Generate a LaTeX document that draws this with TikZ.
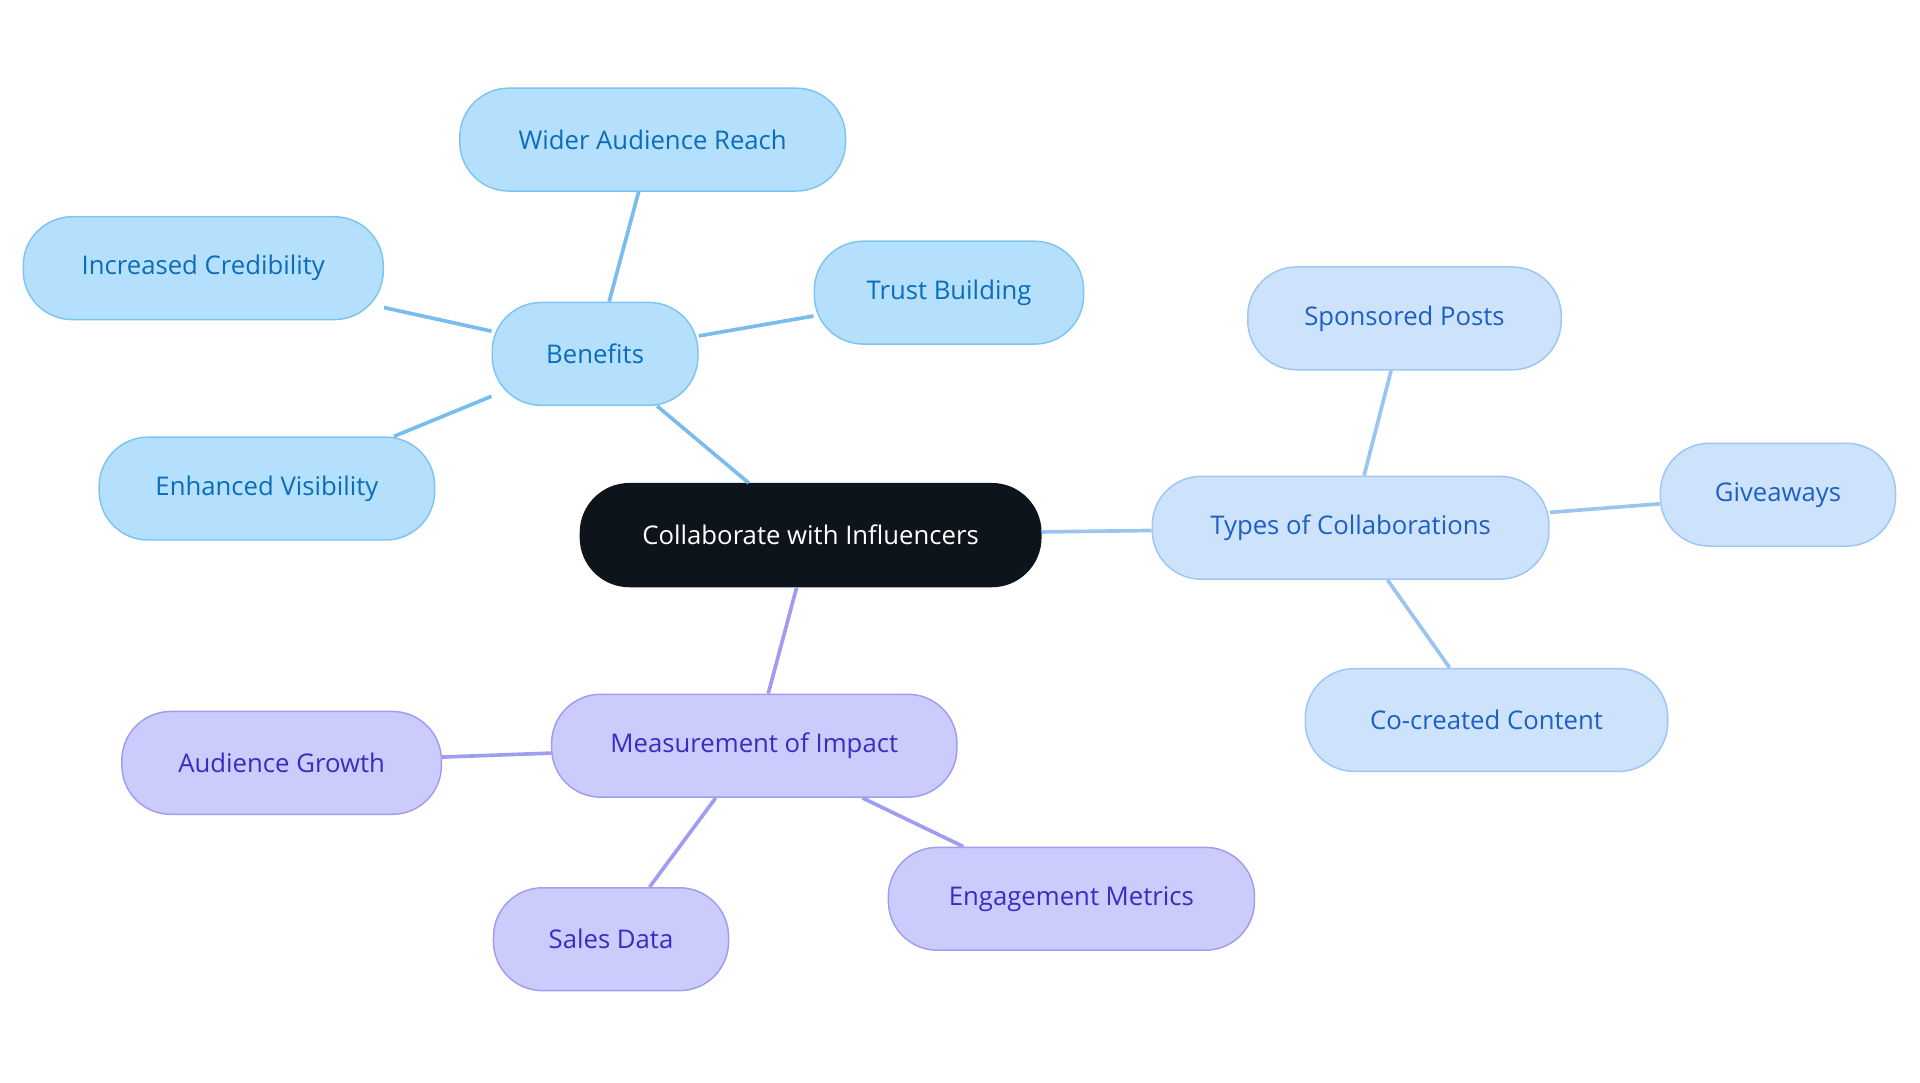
\documentclass[tikz,border=0pt]{standalone}
\usepackage{fontspec}
\setmainfont{Open Sans}
\begin{document}
\begin{tikzpicture}[x=1pt,y=-1pt,
 base/.style={rounded corners=40pt,minimum height=84pt,line width=1.2pt,font=\fontsize{21}{25}\selectfont,inner sep=0pt},
 ben/.style={base,fill=bfill,draw=bdraw,text=btext},
 typ/.style={base,fill=tfill,draw=tdraw,text=ttext},
 mea/.style={base,fill=mfill,draw=mdraw,text=mtext},
 be/.style={draw=bedge,line width=3pt},
 te/.style={draw=tedge,line width=3pt},
 me/.style={draw=medge,line width=3pt}]
\definecolor{bfill}{HTML}{B5E0FD}\definecolor{bdraw}{HTML}{7DC4F0}\definecolor{btext}{HTML}{0B6CBA}\definecolor{bedge}{HTML}{78BDEB}
\definecolor{tfill}{HTML}{CDE3FC}\definecolor{tdraw}{HTML}{9DC6F2}\definecolor{ttext}{HTML}{1E5FC4}\definecolor{tedge}{HTML}{9CC4F0}
\definecolor{mfill}{HTML}{CBCBFC}\definecolor{mdraw}{HTML}{A09DF0}\definecolor{mtext}{HTML}{3A2BC2}\definecolor{medge}{HTML}{A09DF0}
\definecolor{rootc}{HTML}{0D141C}
\useasboundingbox (0,0) rectangle (1568,884);
% edges first
\coordinate (rB) at (612,396); \coordinate (rT) at (850,435); \coordinate (rM) at (651,480);
\node[ben,minimum width=168pt] (ben) at (486,289) {Benefits};
\node[typ,minimum width=324pt] (typ) at (1103,431) {Types of Collaborations};
\node[mea,minimum width=331pt] (mea) at (616,609) {Measurement of Impact};
\node[ben,minimum width=315pt] (b1) at (533,114) {Wider Audience Reach};
\node[ben,minimum width=294pt] (b2) at (166,219) {Increased Credibility};
\node[ben,minimum width=220pt] (b3) at (775,239) {Trust Building};
\node[ben,minimum width=274pt] (b4) at (218,399) {Enhanced Visibility};
\node[typ,minimum width=256pt] (t1) at (1147,260) {Sponsored Posts};
\node[typ,minimum width=192pt] (t2) at (1452,404) {Giveaways};
\node[typ,minimum width=296pt] (t3) at (1214,588) {Co-created Content};
\node[mea,minimum width=261pt] (m1) at (230,623) {Audience Growth};
\node[mea,minimum width=192pt] (m2) at (499,767) {Sales Data};
\node[mea,minimum width=299pt] (m3) at (875,734) {Engagement Metrics};
\begin{scope}[on background layer/.style={}]
\end{scope}
\node[base,fill=rootc,draw=rootc,text=white,minimum width=376pt] (root) at (662,437) {Collaborate with Influencers};
% connectors drawn between borders
\draw[be] (root.north west) ++(0,0) ; 
\draw[be] (ben) -- (root) ;
\draw[te] (root) -- (typ);
\draw[me] (root) -- (mea);
\draw[be] (ben) -- (b1); \draw[be] (ben) -- (b2); \draw[be] (ben) -- (b3); \draw[be] (ben) -- (b4);
\draw[te] (typ) -- (t1); \draw[te] (typ) -- (t2); \draw[te] (typ) -- (t3);
\draw[me] (mea) -- (m1); \draw[me] (mea) -- (m2); \draw[me] (mea) -- (m3);
\end{tikzpicture}
\end{document}
